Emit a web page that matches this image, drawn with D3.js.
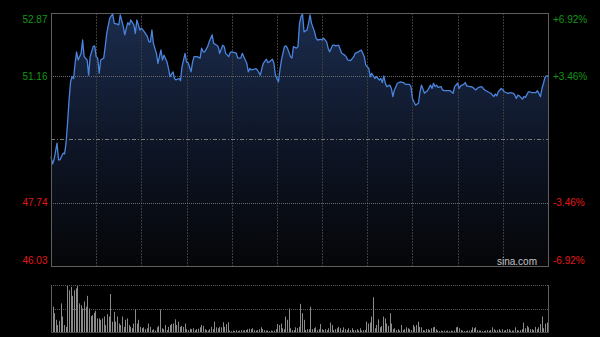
<!DOCTYPE html>
<html>
<head>
<meta charset="utf-8" />
<title>intraday - sina</title>
<style>
html, body {
    margin: 0px;
    padding: 0px;
    background: #000;
}
svg {
    display: block;
}
</style>
</head>
<body>
<svg id="chart" width="600" height="337"></svg>

<script src="https://cdn.jsdelivr.net/npm/d3@7"></script>
<script>
// minutes since open (5.5h session = 330 min) and last price
var minutes = [0,1,2,4,5,6,8,9,10,11,12,13,14,15,16,17,18,19,20,21,22,24,25,26,28,29,30,31,32,33,35,36,37,39,40,41,42,44,45,46,48,49,50,51,52,53,55,56,57,58,59,60,62,64,65,
    66,67,68,70,71,73,74,75,77,78,79,81,82,83,85,86,87,89,90,91,93,94,95,97,99,100,101,102,104,105,107,108,110,111,112,114,115,116,118,119,120,122,123,124,126,127,128,130,131,
    132,133,135,136,137,139,140,141,143,144,145,147,148,149,151,152,153,155,156,157,159,160,161,163,164,165,166,167,168,170,171,172,173,175,176,177,179,180,181,183,184,185,187,188,189,191,192,193,195,196,197,
    199,201,202,204,206,207,208,209,211,212,213,215,216,218,219,220,221,222,223,225,226,227,228,230,231,232,234,235,236,238,239,240,241,242,244,245,246,248,249,250,252,253,254,255,256,257,259,260,261,264,
    265,267,268,270,271,272,274,275,276,278,279,280,282,283,284,286,287,288,290,291,292,294,295,296,297,299,300,301,303,304,305,307,308,309,310,311,313,314,315,317,318,319,321,322,323,325,326,327,328,329,330]

var prices = [48.99,48.79,48.90,49.35,48.90,48.90,49.08,49.06,49.35,49.90,50.52,51.01,51.15,51.10,51.51,51.82,51.60,51.69,51.78,52.14,51.69,51.60,51.19,51.69,51.96,51.98,51.69,51.65,51.24,51.60,51.65,51.96,52.32,52.73,52.79,52.84,52.59,52.57,52.55,52.82,52.50,52.28,52.46,52.61,52.55,52.68,52.55,52.32,52.68,52.55,52.41,52.46,52.36,52.23,52.09,
    52.09,52.41,52.05,51.78,51.51,51.87,51.60,51.73,51.55,51.37,51.15,51.28,51.10,51.06,51.10,51.04,51.42,51.78,51.55,51.53,51.28,51.55,51.69,51.69,51.65,51.92,51.82,51.82,51.96,52.09,52.28,52.05,52.00,51.96,51.78,52.00,51.96,51.78,51.69,51.80,51.82,51.80,51.78,51.65,51.65,51.78,51.69,51.51,51.28,
    51.37,51.33,51.35,51.37,51.33,51.19,51.37,51.51,51.62,51.53,51.55,51.62,51.51,51.19,51.01,51.33,51.60,51.96,51.98,51.92,51.69,51.65,51.96,51.92,51.96,52.59,52.77,52.84,52.36,52.41,52.59,52.82,52.59,52.36,52.19,52.14,52.16,52.14,52.19,52.09,51.92,51.82,52.00,52.00,51.98,52.00,51.89,51.78,51.73,51.69,51.60,
    51.58,51.69,51.78,51.82,51.87,51.78,51.69,51.46,51.37,51.15,51.24,51.10,51.15,51.06,51.10,50.99,51.17,50.97,50.88,50.92,50.83,50.61,50.79,50.97,50.99,51.01,50.99,50.95,50.94,50.94,50.88,50.56,50.47,50.38,50.43,50.74,50.92,50.70,50.74,50.77,50.92,50.83,50.97,50.88,50.92,50.86,50.88,50.79,50.77,50.77,
    50.77,50.70,50.88,50.97,50.83,50.90,50.94,50.99,50.90,50.88,50.88,50.86,50.79,50.83,50.86,50.88,50.83,50.79,50.74,50.72,50.70,50.61,50.68,50.63,50.74,50.83,50.79,50.74,50.70,50.70,50.72,50.70,50.65,50.56,50.65,50.63,50.54,50.61,50.59,50.74,50.74,50.72,50.72,50.72,50.77,50.61,50.83,50.97,51.13,51.17,51.17]

// volume bars, relative units (tallest = 100)
var volumes = [54,40,26,15,24,61,33,15,11,98,89,96,77,89,93,98,61,57,50,65,54,77,50,34,36,41,45,29,29,26,29,33,15,38,33,81,22,43,22,33,18,15,33,11,26,29,15,11,8,18,48,18,26,11,8,10,6,8,18,11,4,6,3,10,13,48,8,6,15,4,11,15,17,18,27,15,22,11,13,11,18,6,4,7,6,8,4,6,7,10,15,13,6,4,3,6,11,6,22,10,8,11,10,21,11,17,21,3,2,3,2,4,2,3,4,3,4,4,6,7,6,8,4,3,4,6,10,6,4,3,3,2,3,2,3,6,17,15,18,8,6,33,26,50,8,4,4,10,8,11,
    60,40,26,4,6,6,54,6,8,10,4,6,17,6,4,6,4,8,20,15,4,6,8,11,8,4,10,6,4,8,4,8,4,4,6,3,8,3,4,4,22,18,20,33,74,8,15,27,10,13,33,29,18,13,40,18,6,8,4,6,3,15,4,6,10,8,6,4,15,11,15,22,11,10,4,3,6,6,4,8,10,11,6,3,2,3,2,3,2,3,2,3,2,3,10,11,8,4,3,2,2,3,3,4,10,8,10,4,3,3,2,2,3,4,3,4,10,6,3,4,6,3,6,3,4,6,6,3,3,3,10,4,3,4,6,20,8,13,10,6,6,4,11,6,10,17,33,8,18,20]

var prevClose = 49.45
var priceTicks = [52.87, 51.16, 47.74, 46.03]
var pctTicks = ["+6.92%", "+3.46%", "-3.46%", "-6.92%"]
var gridMinutes = [30, 60, 90, 120, 150, 180, 210, 240, 270, 300]

var width = 600, height = 337
var plot = {left: 51, right: 548, top: 13, bottom: 266}
var vbox = {top: 285, mid: 309, bottom: 332}
var font = "'Liberation Sans', Arial, sans-serif"

var svg = d3.select("#chart")
svg.append("rect").attr("width", width).attr("height", height).attr("fill", "#000")

var x = d3.scaleLinear().domain([0, 330]).range([plot.left, plot.right])
var y = d3.scaleLinear().domain([46.03, 52.87]).range([plot.bottom, plot.top])

var data = minutes.map(function(m, i) { return {m: m, p: prices[i]} })

// gradient fill under the price line
var grad = svg.append("defs").append("linearGradient")
    .attr("id", "fill")
    .attr("gradientUnits", "userSpaceOnUse")
    .attr("x1", 0).attr("y1", plot.top)
    .attr("x2", 0).attr("y2", plot.bottom)
grad.append("stop").attr("offset", 0).attr("stop-color", "#1b2c4d")
grad.append("stop").attr("offset", 0.55).attr("stop-color", "#0d1424")
grad.append("stop").attr("offset", 1).attr("stop-color", "#050608")

var area = d3.area()
    .x(function(d) { return x(d.m) })
    .y0(plot.bottom)
    .y1(function(d) { return y(d.p) })

svg.append("path")
    .datum(data)
    .attr("d", area)
    .attr("fill", "url(#fill)")

// vertical grid
svg.append("g").selectAll("line")
    .data(gridMinutes)
    .join("line")
    .attr("x1", function(d) { return Math.round(x(d)) + 0.5 })
    .attr("x2", function(d) { return Math.round(x(d)) + 0.5 })
    .attr("y1", plot.top)
    .attr("y2", plot.bottom)
    .attr("stroke", "#3c3c3c")
    .attr("stroke-dasharray", "2,1")

// horizontal grid at the inner ticks
svg.append("g").selectAll("line")
    .data([priceTicks[1], priceTicks[2]])
    .join("line")
    .attr("x1", plot.left)
    .attr("x2", plot.right)
    .attr("y1", function(d) { return Math.round(y(d)) + 0.5 })
    .attr("y2", function(d) { return Math.round(y(d)) + 0.5 })
    .attr("stroke", "#6a6a6a")
    .attr("stroke-dasharray", "1,1")

// previous close line
svg.append("line")
    .attr("x1", plot.left)
    .attr("x2", plot.right)
    .attr("y1", Math.round(y(prevClose)) + 0.5)
    .attr("y2", Math.round(y(prevClose)) + 0.5)
    .attr("stroke", "#7a7a7a")
    .attr("stroke-dasharray", "4,2,1,2")

var line = d3.line()
    .x(function(d) { return x(d.m) })
    .y(function(d) { return y(d.p) })

svg.append("path")
    .datum(data)
    .attr("d", line)
    .attr("fill", "none")
    .attr("stroke", "#4a84dc")
    .attr("stroke-width", 1.3)
    .attr("stroke-linejoin", "round")

// frame
svg.append("rect")
    .attr("x", plot.left + 0.5)
    .attr("y", plot.top + 0.5)
    .attr("width", plot.right - plot.left)
    .attr("height", plot.bottom - plot.top)
    .attr("fill", "none")
    .attr("stroke", "#5e5e5e")

// price and percent labels
function labelY(v) {
    return Math.max(plot.top + 6, Math.min(plot.bottom - 6, y(v)))
}
function labelColor(v) {
    return v > prevClose ? "#14961a" : "#e01818"
}

svg.append("g").selectAll("text")
    .data(priceTicks)
    .join("text")
    .attr("x", 47.5)
    .attr("y", labelY)
    .attr("dy", "0.36em")
    .attr("text-anchor", "end")
    .attr("font-family", font)
    .attr("font-size", 10)
    .attr("fill", labelColor)
    .text(function(d) { return d.toFixed(2) })

svg.append("g").selectAll("text")
    .data(priceTicks)
    .join("text")
    .attr("x", 553)
    .attr("y", labelY)
    .attr("dy", "0.36em")
    .attr("text-anchor", "start")
    .attr("font-family", font)
    .attr("font-size", 10)
    .attr("fill", labelColor)
    .text(function(d, i) { return pctTicks[i] })

svg.append("text")
    .attr("x", 537)
    .attr("y", 265)
    .attr("text-anchor", "end")
    .attr("font-family", font)
    .attr("font-size", 10)
    .attr("fill", "#c4c4c4")
    .text("sina.com")

// volume panel
var xv = d3.scaleLinear().domain([0, volumes.length - 1]).range([plot.left + 1.5, plot.right - 1.5])
var yv = d3.scaleLinear().domain([0, d3.max(volumes)]).range([vbox.bottom, vbox.top + 1])

svg.append("g").selectAll("line")
    .data([vbox.top, vbox.mid])
    .join("line")
    .attr("x1", plot.left)
    .attr("x2", plot.right)
    .attr("y1", function(d) { return d + 0.5 })
    .attr("y2", function(d) { return d + 0.5 })
    .attr("stroke", "#5a5a5a")
    .attr("stroke-dasharray", "1,1")

svg.append("g").selectAll("rect")
    .data(volumes)
    .join("rect")
    .attr("x", function(d, i) { return Math.round(xv(i)) })
    .attr("y", function(d) { return yv(d) })
    .attr("width", 1)
    .attr("height", function(d) { return vbox.bottom - yv(d) })
    .attr("fill", "#8a8a8a")

svg.append("g").selectAll("line")
    .data([plot.left, plot.right])
    .join("line")
    .attr("x1", function(d) { return d + 0.5 })
    .attr("x2", function(d) { return d + 0.5 })
    .attr("y1", vbox.top)
    .attr("y2", vbox.bottom + 1)
    .attr("stroke", "#5e5e5e")

svg.append("line")
    .attr("x1", plot.left)
    .attr("x2", plot.right + 1)
    .attr("y1", vbox.bottom + 0.5)
    .attr("y2", vbox.bottom + 0.5)
    .attr("stroke", "#444")
</script>
</body>
</html>
